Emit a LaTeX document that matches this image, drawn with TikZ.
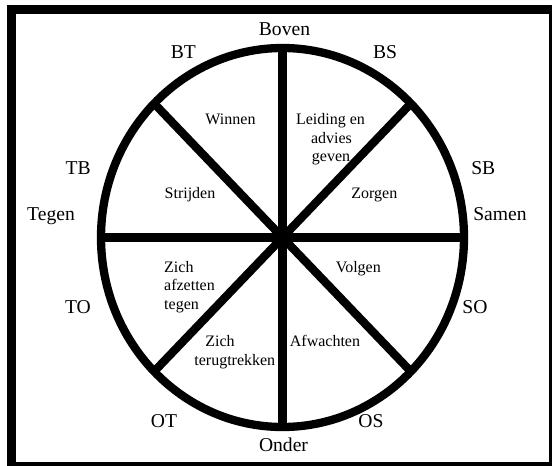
\documentclass[tikz,border=0pt]{standalone}
\usepackage{fontspec}
\setmainfont{Liberation Serif}
\begin{document}
\begin{tikzpicture}[x=1pt,y=-1pt,
  big/.style={font=\fontsize{19.6}{22}\selectfont, anchor=base, inner sep=0pt},
  small/.style={font=\fontsize{16}{18.6}\selectfont, anchor=base, inner sep=0pt},
  heavy/.style={line width=8.3pt, line join=round}]
\clip (0,0) rectangle (552,466);
\fill[white] (0,0) rectangle (552,466);
\draw[line width=9pt] (11,9.5) rectangle (553.5,466);
% wheel
\coordinate (c) at (282.5,237.5);
\coordinate (n) at (282.5,48);
\coordinate (s) at (282.5,427);
\coordinate (w) at (101,237.5);
\coordinate (e) at (464,237.5);
\coordinate (nw) at (154.16,103.5);
\coordinate (ne) at (410.84,103.5);
\coordinate (sw) at (154.16,371.5);
\coordinate (se) at (410.84,371.5);
\draw[heavy] (n) -- (s);
\draw[heavy] (w) -- (e);
\draw[heavy] (nw) -- (se);
\draw[heavy] (ne) -- (sw);
\draw[heavy] (c) ellipse [x radius=181.5pt, y radius=189.5pt];
% outer labels
\node[big] (boven) at (284.5,35.8) {Boven};
\node[big] (bt) at (183.3,58.2) {BT};
\node[big] (bs) at (385,58.2) {BS};
\node[big] (tb) at (78.2,174.5) {TB};
\node[big] (sb) at (483.3,174.2) {SB};
\node[big] (tegen) at (51,220.5) {Tegen};
\node[big] (samen) at (500,220.5) {Samen};
\node[big] (to) at (78,313.5) {TO};
\node[big] (so) at (475,313.3) {SO};
\node[big] (ot) at (164,427.7) {OT};
\node[big] (os) at (371,427.7) {OS};
\node[big] (onder) at (283.5,451.5) {Onder};
% inner labels
\node[small] (winnen) at (230.5,124.5) {Winnen};
\node[small] (leid1) at (330.5,124.5) {Leiding en};
\node[small] (leid2) at (331.5,143.1) {advies};
\node[small] (leid3) at (331,161.7) {geven};
\node[small] (strijden) at (190,198.5) {Strijden};
\node[small] (zorgen) at (374.3,198.5) {Zorgen};
\node[small, anchor=base west] (afz1) at (164,272) {Zich};
\node[small, anchor=base west] (afz2) at (164,290.7) {afzetten};
\node[small, anchor=base west] (afz3) at (164,309.3) {tegen};
\node[small] (volgen) at (358.3,272) {Volgen};
\node[small] (terug1) at (220,346.3) {Zich};
\node[small] (terug2) at (234.8,365) {terugtrekken};
\node[small] (afwachten) at (325,346.3) {Afwachten};
\end{tikzpicture}
\end{document}
